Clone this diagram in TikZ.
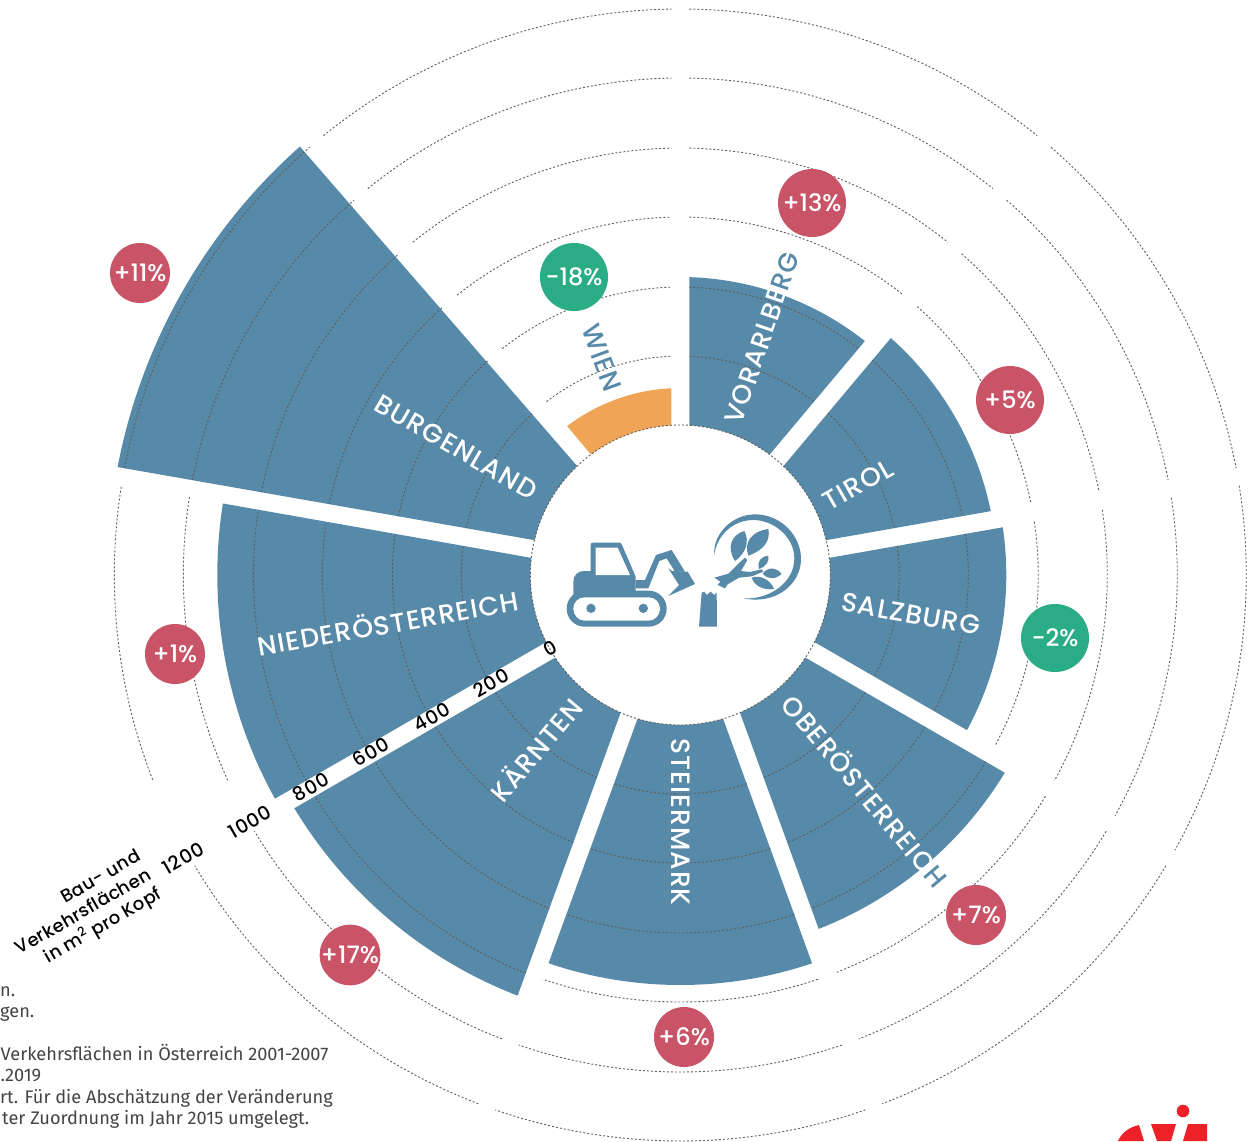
\documentclass[tikz,border=0pt]{standalone}
\usepackage{fontspec}
\setmainfont{Poppins Medium}
\newfontfamily\secfont[LetterSpace=4]{Poppins Medium}
\newfontfamily\axisfont[LetterSpace=5]{Poppins Medium}
\newfontfamily\unitfont[LetterSpace=2]{Poppins Medium}
\newfontfamily\notefont{Fira Sans}
\definecolor{secblue}{HTML}{5789A8}
\definecolor{wienor}{HTML}{F0A556}
\definecolor{badred}{HTML}{C95468}
\definecolor{goodgreen}{HTML}{2AAC86}
\definecolor{ringgrey}{HTML}{5E5E5E}
\definecolor{logored}{HTML}{EE2028}
\definecolor{notegrey}{HTML}{444444}
\newcommand{\sectorshape}[6]{% inner-hi inner-lo outer-hi outer-lo R colour
  \fill[#6] (#1:150pt) -- (#3:#5pt) arc[start angle=#3,end angle=#4,radius=#5pt]
     -- (#2:150pt) arc[start angle=#2,end angle=#1,radius=150pt] -- cycle;
}
\newcommand{\ringarc}[3]{% hi lo r
  \pgfmathsetmacro{\ee}{#1}
  \pgfmathsetmacro{\ff}{#2}
  \draw[ringline] (\ee:#3pt) arc[start angle=\ee,end angle=\ff,radius=#3pt];
}
\tikzset{
  ringline/.style={ringgrey,line width=0.9pt,dash pattern=on 2pt off 2pt},
  seclabel/.style={text=white,font=\secfont\fontsize{26.5}{30}\selectfont,inner sep=0pt},
  axislabel/.style={text=black,font=\axisfont\fontsize{19}{21.5}\selectfont,inner sep=0pt,rotate=30},
  unitlabel/.style={text=black,font=\unitfont\fontsize{18}{21.5}\selectfont,inner sep=0pt,rotate=30,align=right},
  bigbubble/.style={circle,fill=#1,minimum size=68pt,inner sep=0pt,text=white,font=\fontsize{24}{28}\selectfont},
  smallbubble/.style={circle,fill=#1,minimum size=60pt,inner sep=0pt,text=white,font=\fontsize{24}{28}\selectfont},
  notetext/.style={anchor=base west,inner sep=0pt,text=notegrey,font=\notefont\fontsize{18.2}{21}\selectfont},
  iconfill/.style={fill=secblue},
}
\begin{document}
\begin{tikzpicture}[x=1pt,y=1pt]
\clip (0,0) rectangle (1258,-1141);
\fill[white] (0,0) rectangle (1258,-1141);
% sectors and rings
\begin{scope}[shift={(680.3,-575)}]
  \foreach \hi/\lo/\rad/\col in {90/50/298/secblue,50/10/317/secblue,10/-30/326/secblue,-30/-70/380/secblue,-70/-110/410/secblue,-110/-150/451/secblue,-150/-190/463/secblue,130/90/187/wienor}{
    \pgfmathsetmacro{\aa}{\hi-asin(9/150)}
    \pgfmathsetmacro{\bb}{\lo+asin(9/150)}
    \pgfmathsetmacro{\cc}{\hi-asin(9/\rad)}
    \pgfmathsetmacro{\dd}{\lo+asin(9/\rad)}
    \sectorshape{\aa}{\bb}{\cc}{\dd}{\rad}{\col}
  }
  \sectorshape{166.56}{133.44}{169.14}{131.6}{573}{secblue}
  \foreach \hi/\lo in {90/50,50/10,10/-30,-30/-70,-70/-110,-110/-150,170/130,130/90}{
    \foreach \r in {219,288,358,427,497,566}{
      \ringarc{\hi-asin(9/\r)}{\lo+asin(9/\r)}{\r}
    }
  }
  \foreach \r in {219,288,358,427}{
    \ringarc{210-asin(9/\r)}{170+asin(9/\r)}{\r}
  }
  \ringarc{204.4}{170.9}{497}
  \ringarc{201.2}{170.9}{566}
  \draw[ringline] (0,0) circle[radius=150pt];
\end{scope}
% sector labels
\node[seclabel,rotate=71] (vor) at (762,-338) {VORARLBE\textcolor{secblue}{RG}};
\node[seclabel,rotate=30] (tir) at (858,-485) {TIROL};
\node[seclabel,rotate=-10] (sal) at (911,-614) {SALZBURG};
\node[seclabel,rotate=-50] (obe) at (866,-790) {OBERÖSTERREIC\textcolor{secblue}{H}};
\node[seclabel,rotate=-90] (ste) at (681,-822) {STEIERMARK};
\node[seclabel,rotate=50] (kae) at (535,-749) {KÄRNTEN};
\node[seclabel,rotate=10] (nie) at (388,-622) {NIEDERÖSTERREICH};
\node[seclabel,rotate=-30] (bur) at (456,-447) {BURGENLAND};
\node[seclabel,rotate=-70,text=secblue] (wie) at (602,-358) {WIEN};
% axis labels
\node[axislabel] (a0) at (550,-648) {0};
\node[axislabel] (a200) at (491,-683) {200};
\node[axislabel] (a400) at (432,-717) {400};
\node[axislabel] (a600) at (371,-752) {600};
\node[axislabel] (a800) at (311,-787) {800};
\node[axislabel] (a1000) at (250,-822) {1000};
\node[axislabel] (a1200) at (183,-858) {1200};
\node[unitlabel] (unit) at (84,-913) {Bau- und\\Verkehrsflächen\\in m\textsuperscript{2} pro Kopf};
% bubbles
\node[bigbubble=badred] (b13) at (812,-203) {+13\%};
\node[bigbubble=badred] (b5) at (1010,-400) {+5\%};
\node[bigbubble=goodgreen] (b2) at (1055,-638) {-2\%};
\node[smallbubble=badred] (b7) at (976,-915) {+7\%};
\node[smallbubble=badred] (b6) at (684,-1037) {+6\%};
\node[smallbubble=badred] (b17) at (350,-955) {+17\%};
\node[smallbubble=badred] (b1) at (175,-654) {+1\%};
\node[smallbubble=badred] (b11) at (140,-273) {+11\%};
\node[bigbubble=goodgreen] (b18) at (574,-277) {-18\%};
% notes
\node[notetext] (n1) at (0,-996) {n.};
\node[notetext] (n2) at (0,-1017) {gen.};
\node[notetext] (n3) at (0.5,-1060) {Verkehrsflächen in Österreich 2001-2007};
\node[notetext] (n4) at (0.5,-1081) {.2019};
\node[notetext] (n5) at (0,-1103) {rt. Für die Abschätzung der Veränderung};
\node[notetext] (n6) at (2,-1124) {ter Zuordnung im Jahr 2015 umgelegt.};
% excavator and stump
\begin{scope}[shift={(520,-480)},x=0.33333pt,y=-0.33333pt]
  \fill[iconfill] (160,350) -- (160,305) .. controls (160,285) and (175,273) .. (192,273) -- (212,273) -- (212,196) .. controls (212,190) and (214,188) .. (220,188) -- (298,188) .. controls (302,188) and (304,190) .. (306,195) -- (347,290) -- (347,335) -- cycle;
  \fill[white] (227,203) -- (293,203) -- (330,285) -- (227,285) -- cycle;
  \fill[iconfill] (140,386) .. controls (140,356) and (164,332) .. (194,332) -- (386,332) .. controls (416,332) and (440,356) .. (440,386) .. controls (440,416) and (416,440) .. (386,440) -- (194,440) .. controls (164,440) and (140,416) .. (140,386) -- cycle;
  \fill[white] (160,386) .. controls (160,367) and (175,352) .. (194,352) -- (386,352) .. controls (405,352) and (420,367) .. (420,386) .. controls (420,405) and (405,422) .. (386,422) -- (194,422) .. controls (175,422) and (160,405) .. (160,386) -- cycle;
  \fill[iconfill] (213,385) circle[radius=14];
  \fill[iconfill] (370,385) circle[radius=14];
  \fill[iconfill] (347,300) -- (375,300) -- (408,225) -- (455,210) -- (495,275) -- (465,275) -- (440,235) -- (418,243) -- (385,325) -- (347,325) -- cycle;
  \fill[iconfill] (445,265) -- (457,273) -- (503,275) -- (525,312) -- (445,348) -- (477,315) -- cycle;
  \fill[iconfill] (545,338) -- (553,335) -- (560,345) -- (572,335) -- (583,345) -- (590,337) -- (591,440) -- (537,440) -- cycle;
\end{scope}
% tree
\begin{scope}[shift={(695,-505)},x=0.33333pt,y=-0.33333pt]
  \fill[iconfill] (58,150) .. controls (52,90) and (110,28) .. (180,28) .. controls (260,28) and (320,95) .. (318,165) .. controls (316,240) and (240,300) .. (145,280) .. controls (220,285) and (298,235) .. (298,160) .. controls (298,95) and (235,45) .. (175,45) .. controls (115,45) and (65,90) .. (58,150) -- cycle;
  \fill[iconfill] (148,78) .. controls (112,88) and (92,125) .. (120,168) .. controls (152,145) and (165,110) .. (148,78) -- cycle;
  \fill[iconfill] (220,72) .. controls (172,78) and (145,110) .. (160,152) .. controls (202,137) and (228,110) .. (220,72) -- cycle;
  \fill[iconfill] (220,152) .. controls (196,155) and (186,170) .. (192,192) .. controls (212,186) and (224,170) .. (220,152) -- cycle;
  \fill[iconfill] (203,206) .. controls (220,183) and (245,188) .. (260,207) .. controls (240,224) and (218,224) .. (203,206) -- cycle;
  \fill[iconfill] (170,218) .. controls (195,208) and (227,225) .. (237,252) .. controls (205,257) and (178,242) .. (170,218) -- cycle;
  \fill[iconfill] (58,218) -- (100,206) -- (128,178) -- (150,158) -- (157,165) -- (138,198) -- (165,201) -- (200,193) -- (205,200) -- (170,214) -- (132,218) -- (98,238) -- (90,250) -- (68,240) -- (76,230) -- cycle;
\end{scope}
% logo
\begin{scope}[shift={(0,0)},x=1pt,y=-1pt]
  \fill[logored] (1183,1111) circle[radius=6.3pt];
  \fill[logored] (1118,1141) .. controls (1122,1132) and (1130,1127) .. (1139,1125) -- (1144,1141) -- cycle;
  \fill[logored] (1151,1124) -- (1176,1124) -- (1171,1141) -- (1157,1141) -- cycle;
  \fill[logored] (1188,1124) -- (1207,1124) -- (1207,1141) -- (1183,1141) -- cycle;
\end{scope}
\end{tikzpicture}
\end{document}
